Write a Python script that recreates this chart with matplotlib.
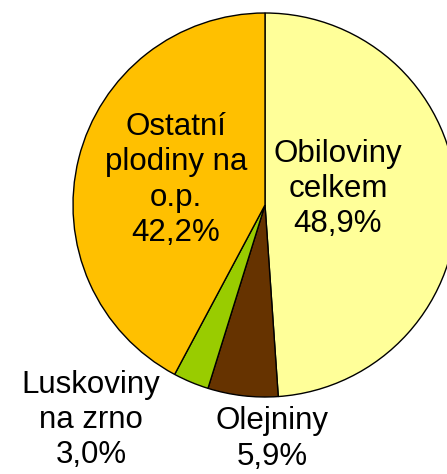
import matplotlib
matplotlib.use("Agg")
import matplotlib.pyplot as plt

# Data
categories = ["Obiloviny\ncelkem", "Olejniny", "Luskoviny\nna zrno", "Ostatní\nplodiny na\no.p."]
values = [48.9, 5.9, 3.0, 42.2]
colors = ["#FFFF99", "#663300", "#99CC00", "#FFC000"]

W, H = 447, 474
fig = plt.figure(figsize=(W / 100, H / 100), dpi=100)
cx, cy, r = 265, 205, 192
ax = fig.add_axes([(cx - r) / W, (H - cy - r) / H, 2 * r / W, 2 * r / H])
ax.pie(values, colors=colors, startangle=90, counterclock=False, radius=1,
       wedgeprops=dict(edgecolor="black", linewidth=1.0))
ax.set_xlim(-1, 1)
ax.set_ylim(-1, 1)
ax.axis("off")

# label centres in pixel coordinates (layout)
label_pos = [(338, 189), (272, 439), (91, 420), (176, 180)]
for name, v, (px, py) in zip(categories, values, label_pos):
    s = name + "\n" + f"{v:.1f}".replace(".", ",") + "%"
    fig.text(px / W, 1 - py / H, s, ha="center", va="center", multialignment="center",
             fontsize=22.5, family=["Liberation Sans", "DejaVu Sans"], linespacing=1.22,
             color="black")

fig.savefig("out.png", dpi=100)
